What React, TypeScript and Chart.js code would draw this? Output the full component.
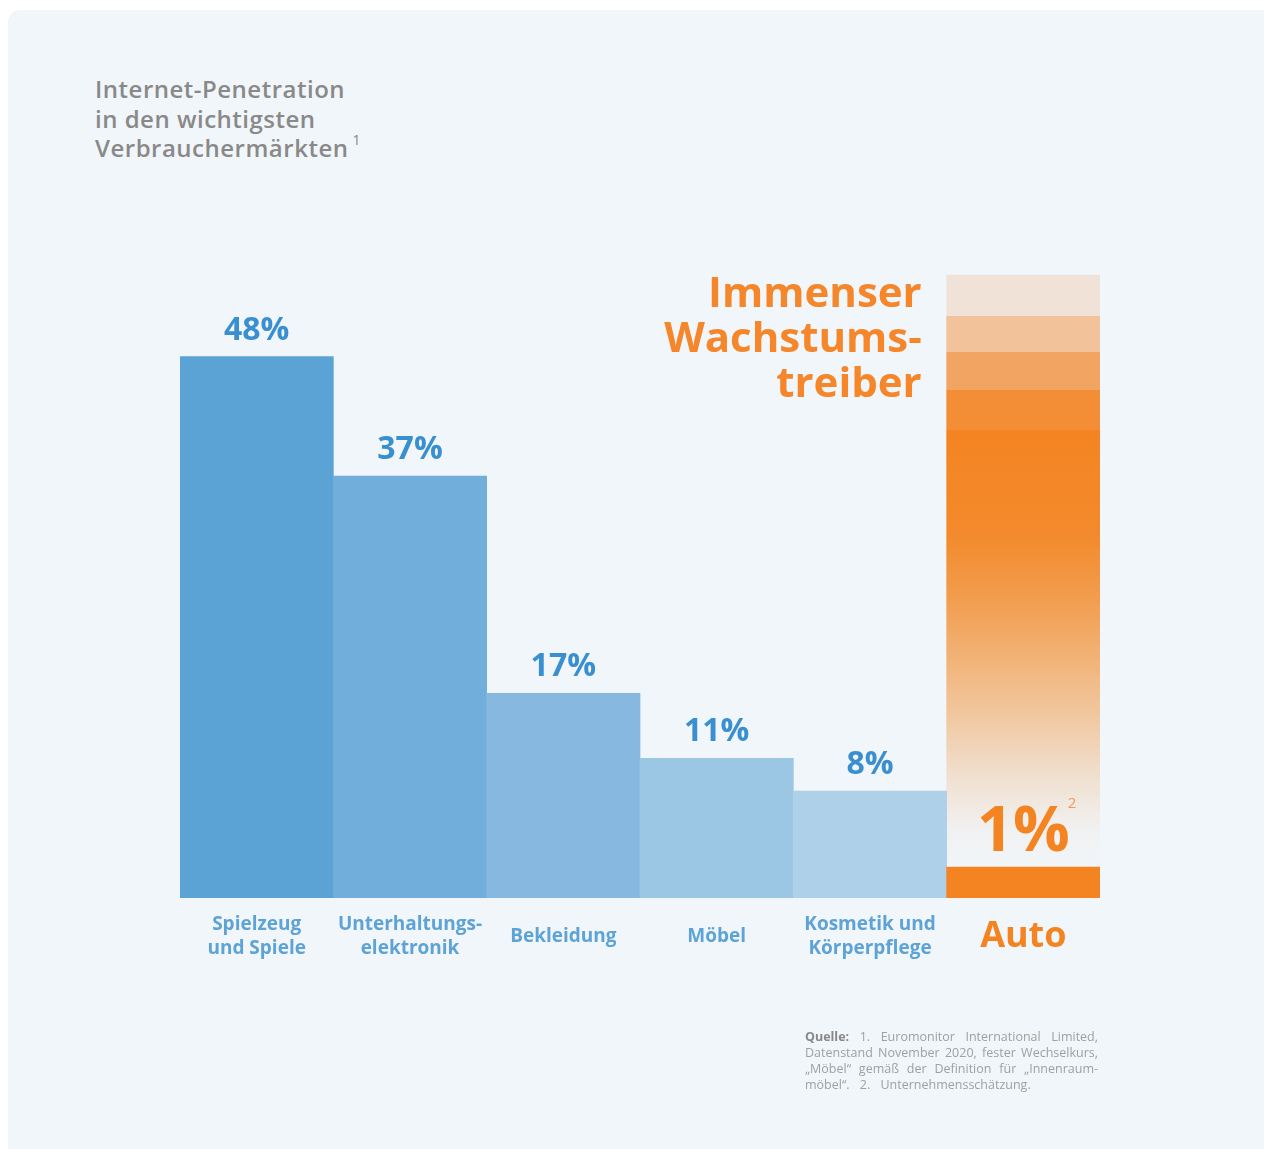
import React, { useEffect, useRef } from "react";
import { Chart, registerables } from "chart.js";

Chart.register(...registerables);

// ---- data ----
const categories: (string | string[])[] = [
  ["Spielzeug", "und Spiele"],
  ["Unterhaltungs-", "elektronik"],
  "Bekleidung",
  "Möbel",
  ["Kosmetik und", "Körperpflege"],
  "Auto",
];
const penetration = [48, 37, 17, 11, 8, 1];
const valueLabels = ["48%", "37%", "17%", "11%", "8%", "1%"];
const growthColumn: ([number, number] | null)[] = [null, null, null, null, null, [1, 55.5]];
const headline = ["Immenser", "Wachstums-", "treiber"];
const titleLines = ["Internet-Penetration", "in den wichtigsten", "Verbrauchermärkten"];

// ---- styles ----
const FONT = "'Open Sans', 'DejaVu Sans', sans-serif";
const ORANGE = "#f48421";
const barColors = ["#5ca3d5", "#72aedb", "#87b9e0", "#9bc6e4", "#aed0e8", ORANGE];
const Y_MIN = -1.85;
const Y_MAX = 58;

const growthStops: [number, string][] = [
  [0, "#f0e2d6"], [0.0697, "#f0e2d6"],
  [0.0697, "#f2c39b"], [0.129, "#f2c39b"],
  [0.129, "#f2a562"], [0.194, "#f2a562"],
  [0.194, "#f38e37"], [0.262, "#f38e37"],
  [0.262, "#f48421"],
  [0.44, "#f38a2d"],
  [0.54, "#f29c4c"],
  [0.627, "#f2ae6e"],
  [0.738, "#f1c69d"],
  [0.849, "#f0e0d0"],
  [0.937, "#f1f1f1"],
  [1, "#f1f5f9"],
];

const growthFill = (c: any) => {
  const chart = c.chart;
  const y = chart.scales?.y;
  if (!chart.chartArea || !y) return ORANGE;
  const col = growthColumn[5] as [number, number];
  const top = y.getPixelForValue(col[1]);
  const bot = y.getPixelForValue(col[0]);
  const g = chart.ctx.createLinearGradient(0, top, 0, bot);
  growthStops.forEach(([p, color]) => g.addColorStop(p, color));
  return g;
};

const labelPlugin = {
  id: "valueLabels",
  afterDatasetsDraw(chart: any) {
    const ctx = chart.ctx as CanvasRenderingContext2D;
    const meta = chart.getDatasetMeta(0);
    ctx.save();
    meta.data.forEach((bar: any, i: number) => {
      const { x, y } = bar.getProps(["x", "y"], true);
      ctx.textAlign = "center";
      ctx.textBaseline = "alphabetic";
      if (i < 5) {
        ctx.font = `bold 32px ${FONT}`;
        ctx.fillStyle = "#3a8fd0";
        ctx.fillText(valueLabels[i], x, y - 17);
      } else {
        ctx.font = `bold 63px ${FONT}`;
        ctx.fillStyle = ORANGE;
        const by = y - 16;
        ctx.fillText(valueLabels[i], x, by);
        const w = ctx.measureText(valueLabels[i]).width;
        ctx.font = `15px ${FONT}`;
        ctx.fillStyle = "#f29a5e";
        ctx.textAlign = "left";
        ctx.fillText("2", x + w / 2 - 2, by - 43);
      }
    });
    const gmeta = chart.getDatasetMeta(1);
    const col = gmeta.data[5];
    if (col) {
      const { x, y, width } = col.getProps(["x", "y", "width"], true);
      const left = x - width / 2;
      ctx.font = `bold 42px ${FONT}`;
      ctx.fillStyle = "#f5862a";
      ctx.textAlign = "right";
      ctx.textBaseline = "alphabetic";
      headline.forEach((line, k) => ctx.fillText(line, left - 25, y + 32 + k * 45));
    }
    ctx.restore();
  },
};

export default function App() {
  const ref = useRef<HTMLCanvasElement>(null);

  useEffect(() => {
    if (!ref.current) return;
    const chart = new Chart(ref.current, {
      type: "bar",
      data: {
        labels: categories as any,
        datasets: [
          {
            label: "Internet-Penetration",
            data: penetration,
            backgroundColor: barColors,
            base: Y_MIN,
            grouped: false,
            barPercentage: 1,
            categoryPercentage: 1,
            borderWidth: 0,
          } as any,
          {
            label: "Wachstum",
            data: growthColumn as any,
            backgroundColor: growthFill,
            grouped: false,
            barPercentage: 1,
            categoryPercentage: 1,
            borderWidth: 0,
          } as any,
        ],
      },
      options: {
        responsive: false,
        animation: false,
        events: [],
        layout: { padding: { left: 180, right: 164, top: 248, bottom: 181 } },
        plugins: {
          legend: { display: false },
          tooltip: { enabled: false },
          title: { display: false },
        },
        scales: {
          x: {
            grid: { display: false, drawTicks: false },
            border: { display: false },
            ticks: {
              padding: 27,
              crossAlign: "center",
              autoSkip: false,
              maxRotation: 0,
              minRotation: 0,
              color: (c: any) => (c.index === 5 ? ORANGE : "#5ea3d6"),
              font: (c: any) =>
                c.index === 5
                  ? { family: FONT, size: 36, weight: "bold", lineHeight: 24 / 36 }
                  : { family: FONT, size: 19, weight: "bold", lineHeight: 24 / 19 },
            },
            afterFit: (s: any) => {
              s.height = 70;
            },
          } as any,
          y: { display: false, min: Y_MIN, max: Y_MAX },
        },
      },
      plugins: [labelPlugin],
    });
    return () => chart.destroy();
  }, []);

  return (
    <div>
      <div
        style={{
          position: "fixed",
          left: 8,
          top: 10,
          width: 1300,
          height: 1200,
          background: "#f1f6fa",
          borderRadius: 12,
        }}
      />
      <div
        style={{
          position: "fixed",
          left: 95,
          top: 74,
          fontFamily: FONT,
          fontWeight: 600,
          fontSize: 24,
          lineHeight: "29.5px",
          letterSpacing: "0.5px",
          color: "#898989",
          whiteSpace: "nowrap",
        }}
      >
        {titleLines.map((t, i) => (
          <div key={i}>
            {t}
            {i === titleLines.length - 1 && (
              <span style={{ fontSize: 14, fontWeight: 400, position: "relative", top: -12, marginLeft: 4 }}>1</span>
            )}
          </div>
        ))}
      </div>
      <canvas
        ref={ref}
        width={1264}
        height={1149}
        style={{ position: "fixed", left: 0, top: 0, width: 1264, height: 1149 }}
      />
      <div
        style={{
          position: "fixed",
          left: 805,
          top: 1029,
          width: 293,
          fontFamily: FONT,
          fontSize: 12.5,
          lineHeight: "16px",
          color: "#a0a0a0",
        }}
      >
        <div style={{ textAlign: "justify", textAlignLast: "justify" }}>
          <b style={{ color: "#888888" }}>Quelle:</b> 1. Euromonitor International Limited,
        </div>
        <div style={{ textAlign: "justify", textAlignLast: "justify" }}>
          Datenstand November 2020, fester Wechselkurs,
        </div>
        <div style={{ textAlign: "justify", textAlignLast: "justify" }}>
          „Möbel“ gemäß der Definition für „Innenraum-
        </div>
        <div style={{ wordSpacing: "7px" }}>möbel“. 2. Unternehmensschätzung.</div>
      </div>
    </div>
  );
}
